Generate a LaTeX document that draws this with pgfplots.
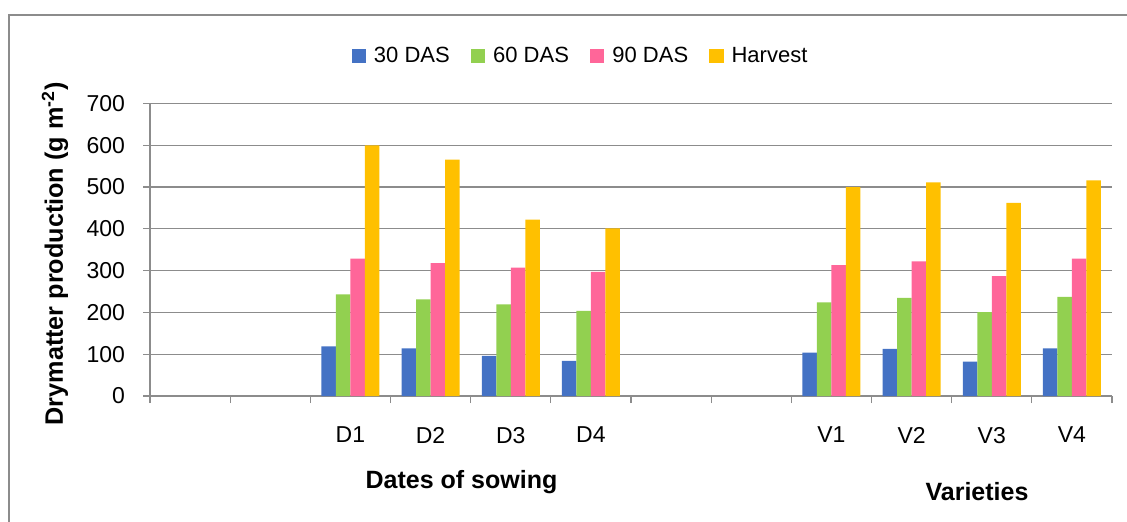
\documentclass[border=0pt]{standalone}
\usepackage{fontspec}
\setmainfont{Liberation Sans}
\usepackage{pgfplots}
\pgfplotsset{compat=1.18}

\definecolor{cblue}{HTML}{4472C4}
\definecolor{cgreen}{HTML}{92D050}
\definecolor{cpink}{HTML}{FF6699}
\definecolor{corange}{HTML}{FFC000}
\definecolor{axgray}{HTML}{8C8C8C}

\pgfplotsset{sqlegend/.style={legend image code/.code={\fill[##1] (0pt,-3.6pt) rectangle (7.2pt,3.6pt);}}}

% slots 0..11: two empty, D1-D4, two empty, V1-V4
\pgfplotstableread{
x  d30  d60  d90  harv
2  119  243  329  600
3  114  231  318  566
4   96  219  307  422
5   84  204  297  401
8  104  224  313  500
9  113  235  322  511
10  82  201  287  462
11 114  237  329  516
}\drymatter

\begin{document}
\begin{tikzpicture}
\begin{axis}[
    at={(0,0)}, anchor=south west,
    scale only axis,
    width=481pt, height=146.25pt,
    ybar=0pt, bar width=7.25pt,
    xmin=-0.5, xmax=11.5,
    ymin=0, ymax=700,
    ytick={0,100,...,700},
    xtick={-0.5,0.5,...,11.5},
    xticklabels={},
    extra x ticks={2,3,4,5,8,9,10,11},
    extra x tick labels={D1,D2,D3,D4,V1,V2,V3,V4},
    extra x tick style={major tick length=0pt, grid=none,
        xticklabel style={yshift=-12pt}},
    axis lines=left,
    axis line style={-, axgray, line width=0.8pt},
    tick style={axgray, line width=0.6pt},
    tick align=outside,
    major tick length=3.5pt,
    ymajorgrids,
    major grid style={axgray, line width=0.6pt},
    tick label style={font=\fontsize{11.5}{13}\selectfont},
    yticklabel style={xshift=-5.5pt},
    /pgf/number format/assume math mode=true,
    ylabel={\textbf{Drymatter production (g m\textsuperscript{-2})}},
    ylabel style={at={(axis description cs:-0.0988,0.486)}, anchor=center,
        font=\fontsize{12.6}{14}\selectfont},
    clip=false,
    legend columns=-1,
    legend style={at={(rel axis cs:0.4480,1.1624)}, anchor=center,
        draw=none, fill=none, font=\fontsize{11}{13}\selectfont,
        /tikz/every odd column/.append style={column sep=2.5pt},
        /tikz/every even column/.append style={column sep=9pt},
        nodes={inner sep=1.5pt}},
]
\addplot[sqlegend, fill=cblue, draw=none] table[x=x, y=d30] {\drymatter};
\addplot[sqlegend, fill=cgreen, draw=none] table[x=x, y=d60] {\drymatter};
\addplot[sqlegend, fill=cpink, draw=none] table[x=x, y=d90] {\drymatter};
\addplot[sqlegend, fill=corange, draw=none] table[x=x, y=harv] {\drymatter};
\legend{30 DAS, 60 DAS, 90 DAS, Harvest}
\end{axis}
\node[font=\bfseries\fontsize{12.5}{14}\selectfont] at (155.75pt,-43pt) {Dates of sowing};
\node[font=\bfseries\fontsize{12.5}{14}\selectfont] at (413.5pt,-48pt) {Varieties};
\draw[axgray, line width=0.8pt] (-70.5pt,-70pt) -- (-70.5pt,190.5pt) -- (495pt,190.5pt);
\pgfresetboundingbox
\path[use as bounding box] (-75pt,-62.5pt) rectangle (488.5pt,198pt);
\end{tikzpicture}
\end{document}
